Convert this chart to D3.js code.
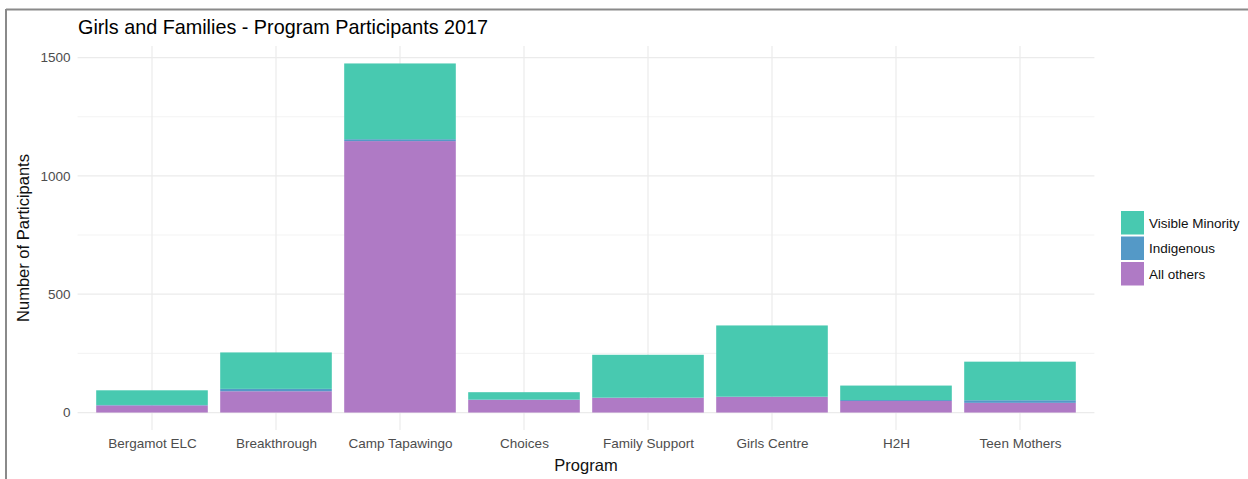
<!DOCTYPE html>
<html>
<head>
<meta charset="utf-8">
<script src="https://cdn.jsdelivr.net/npm/d3@7"></script>
<style>
  html, body { margin: 0; padding: 0; background: #fff; }
  svg { display: block; font-family: "Liberation Sans", Arial, sans-serif; }
</style>
</head>
<body>
<svg id="chart" width="1248" height="479"></svg>
<script>
const programs = ["Bergamot ELC", "Breakthrough", "Camp Tapawingo", "Choices", "Family Support", "Girls Centre", "H2H", "Teen Mothers"];
const allOthers = [30, 90, 1147, 53, 62, 66, 49, 41];
const indigenous = [2, 10, 8, 2, 1, 1, 4, 11];
const visibleMinority = [62, 154, 320, 31, 181, 301, 61, 163];
const seriesNames = ["All others", "Indigenous", "Visible Minority"];
const seriesColors = ["#AF7AC5", "#5499C7", "#48C9B0"];
const yTicks = [0, 500, 1000, 1500];
const yMinor = [250, 750, 1250];

const svg = d3.select("#chart");
const W = 1248, H = 479;
const panel = { left: 77.6, right: 1094.4, top: 46, bottom: 430 };

// frame border
svg.append("line").attr("x1", 6).attr("x2", W).attr("y1", 9.5).attr("y2", 9.5)
  .attr("stroke", "#8a8a8a").attr("stroke-width", 2);
svg.append("line").attr("x1", 6).attr("x2", 6).attr("y1", 9).attr("y2", H)
  .attr("stroke", "#8a8a8a").attr("stroke-width", 2);

const rows = programs.map((p, i) => ({
  program: p,
  "All others": allOthers[i],
  "Indigenous": indigenous[i],
  "Visible Minority": visibleMinority[i]
}));
const stacked = d3.stack().keys(seriesNames)(rows);
const maxTotal = d3.max(stacked[stacked.length - 1], d => d[1]);

// discrete axis with 0.6-unit expansion on each side (ggplot style)
const step = (panel.right - panel.left) / (programs.length + 0.2);
const xc = p => panel.left + step * (0.6 + programs.indexOf(p));
const barW = step * 0.9;

const y = d3.scaleLinear().domain([-0.05 * maxTotal, maxTotal * 1.05]).range([panel.bottom, panel.top]);

const g = svg.append("g");

// minor gridlines
g.selectAll(".ymin").data(yMinor).join("line")
  .attr("x1", panel.left).attr("x2", panel.right)
  .attr("y1", d => y(d)).attr("y2", d => y(d))
  .attr("stroke", "#f0f0f0").attr("stroke-width", 0.8);
// major gridlines
g.selectAll(".ymaj").data(yTicks).join("line")
  .attr("x1", panel.left).attr("x2", panel.right)
  .attr("y1", d => y(d)).attr("y2", d => y(d))
  .attr("stroke", "#ebebeb").attr("stroke-width", 1.2);
g.selectAll(".xmaj").data(programs).join("line")
  .attr("x1", d => xc(d)).attr("x2", d => xc(d))
  .attr("y1", panel.top).attr("y2", panel.bottom)
  .attr("stroke", "#ebebeb").attr("stroke-width", 1.2);

// bars
stacked.forEach((layer, li) => {
  g.append("g").selectAll("rect").data(layer).join("rect")
    .attr("x", d => xc(d.data.program) - barW / 2)
    .attr("width", barW)
    .attr("y", d => y(d[1]))
    .attr("height", d => Math.max(0, y(d[0]) - y(d[1])))
    .attr("fill", seriesColors[li]);
});

// y axis labels
const yAxis = d3.axisLeft(y).tickValues(yTicks).tickFormat(d3.format("d")).tickSize(0).tickPadding(7);
const ya = svg.append("g").attr("transform", `translate(${panel.left},0)`).call(yAxis);
ya.select(".domain").remove();
ya.selectAll("text").attr("fill", "#4d4d4d").style("font-size", "13.5px")
  .style("font-family", "'Liberation Sans', Arial, sans-serif");

// x axis labels
const xAxis = d3.axisBottom(d3.scalePoint().domain(programs)
  .range([xc(programs[0]), xc(programs[programs.length - 1])])).tickSize(0).tickPadding(8);
const xa = svg.append("g").attr("transform", `translate(0,${panel.bottom})`).call(xAxis);
xa.select(".domain").remove();
xa.selectAll("text").attr("fill", "#4d4d4d").style("font-size", "13.5px")
  .style("font-family", "'Liberation Sans', Arial, sans-serif");

// axis titles
svg.append("text").attr("x", (panel.left + panel.right) / 2).attr("y", 471)
  .attr("text-anchor", "middle").style("font-size", "16.5px").attr("fill", "#111")
  .text("Program");
svg.append("text").attr("transform", `translate(29,${(panel.top + panel.bottom) / 2}) rotate(-90)`)
  .attr("text-anchor", "middle").style("font-size", "16.5px").attr("fill", "#111")
  .text("Number of Participants");

// title
svg.append("text").attr("x", 78).attr("y", 34).style("font-size", "19.8px").attr("fill", "#000")
  .text("Girls and Families - Program Participants 2017");

// legend (top to bottom: Visible Minority, Indigenous, All others)
const legendOrder = seriesNames.slice().reverse();
const legendColors = seriesColors.slice().reverse();
const lg = svg.append("g").attr("transform", "translate(1121,211)");
legendOrder.forEach((name, i) => {
  lg.append("rect").attr("x", 0).attr("y", i * 25.5).attr("width", 23).attr("height", 23.5)
    .attr("fill", legendColors[i]);
  lg.append("text").attr("x", 28).attr("y", i * 25.5 + 12).attr("dy", "0.35em")
    .style("font-size", "13.5px").attr("fill", "#111").text(name);
});
</script>
</body>
</html>
